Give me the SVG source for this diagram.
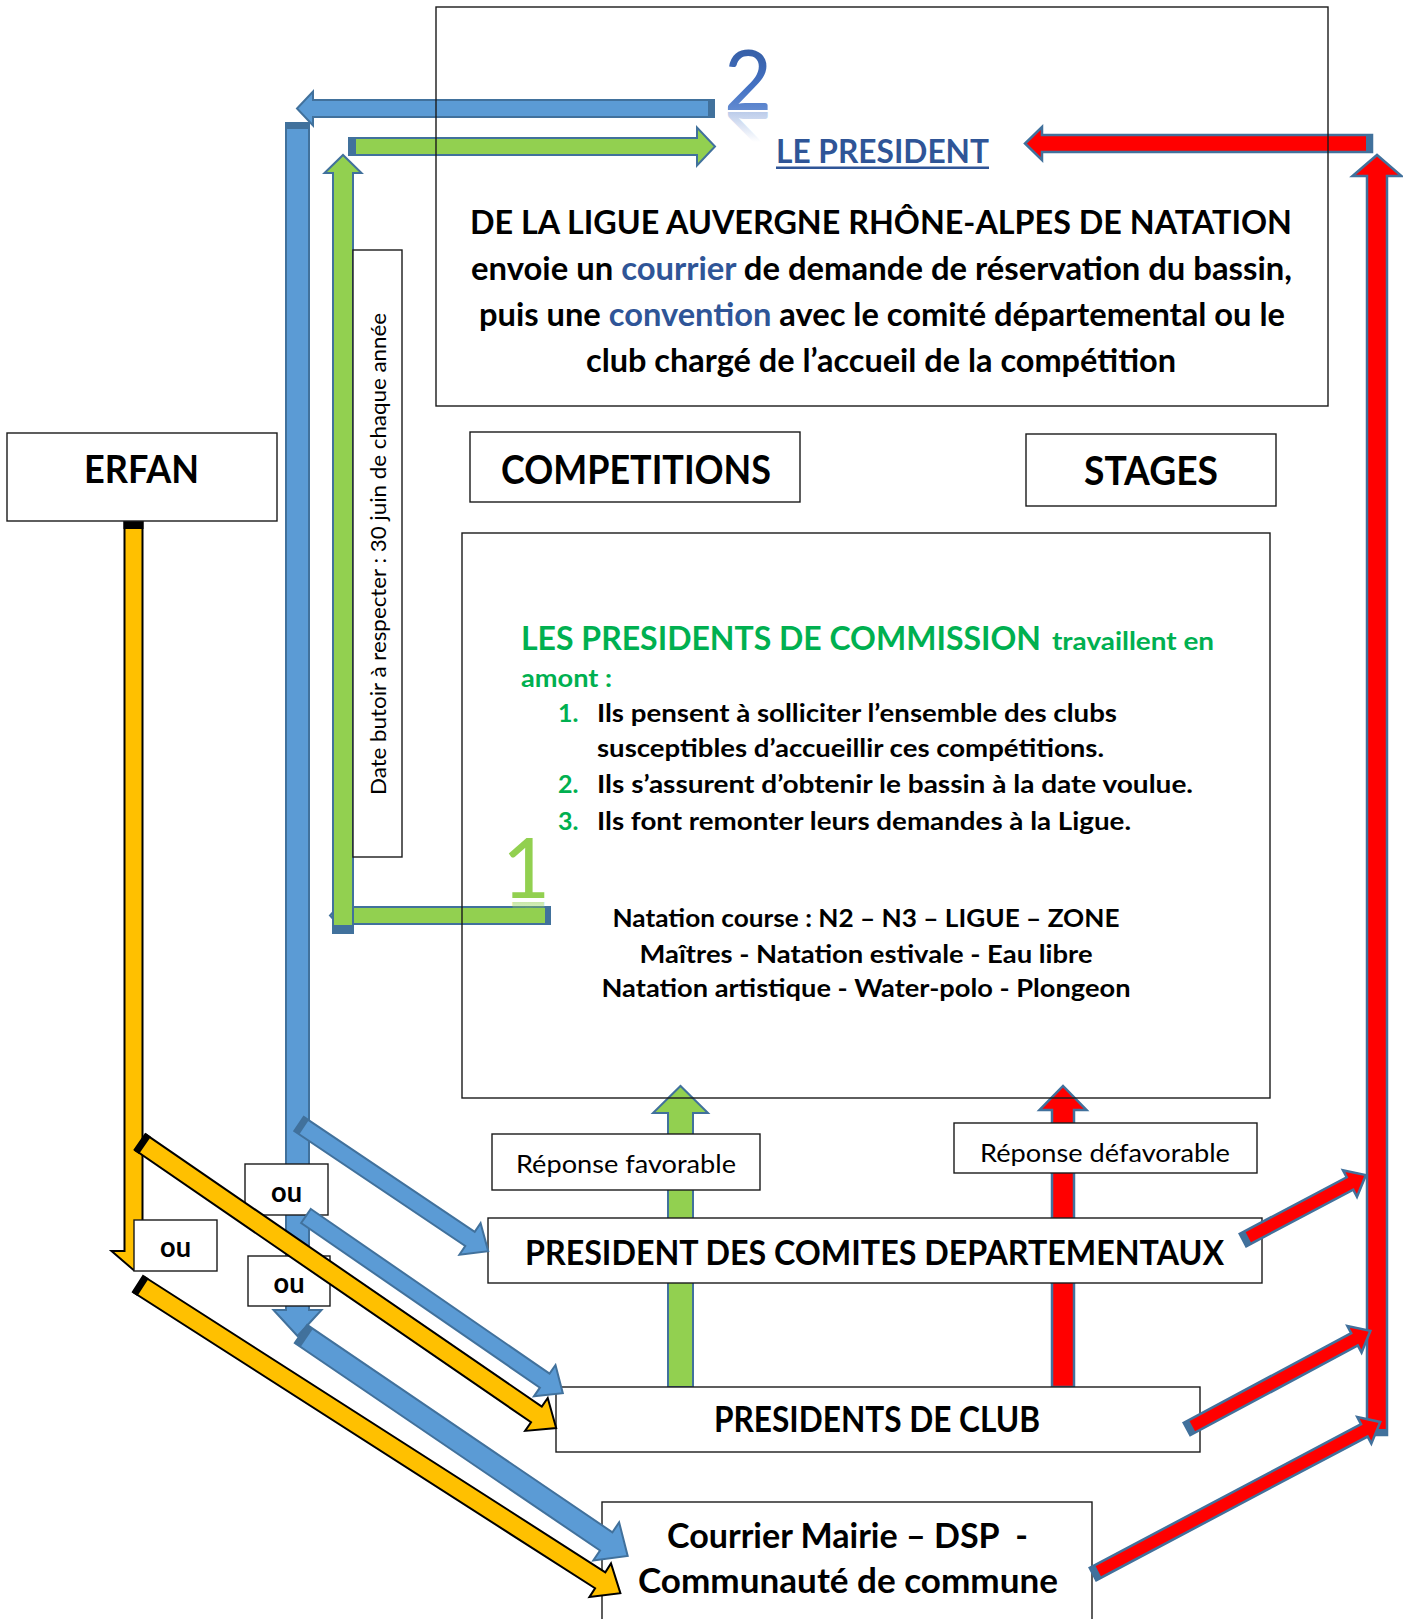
<svg xmlns="http://www.w3.org/2000/svg" width="1403" height="1619" viewBox="0 0 1403 1619">
<defs>
<style>
.bx{fill:#fff;stroke:#1a1a1a;stroke-width:1.4}
.fr{fill:none;stroke:#1a1a1a;stroke-width:1.4}
.t{font-family:Lato,'Open Sans','Liberation Sans',sans-serif;font-weight:700;fill:#000}
.r{font-weight:400}
.lt{font-weight:400}
.c{text-anchor:middle}
.dk{fill:#2F5597}
.gn{fill:#00B050}
.bl{fill:#5B9BD5;stroke:#41719C;stroke-width:2}
.gr{fill:#92D050;stroke:#41719C;stroke-width:2}
.rd{fill:#FF0000;stroke:#41719C;stroke-width:2.5}
.or{fill:#FFC000;stroke:#000;stroke-width:2}
.capb{fill:#41719C}
.capk{fill:#000}
</style>
<linearGradient id="g2" x1="0" y1="0" x2="0" y2="1">
<stop offset="0" stop-color="#2F5597"/>
<stop offset="0.6" stop-color="#4472C4"/>
<stop offset="1" stop-color="#7C9FDB"/>
</linearGradient>
<linearGradient id="g2r" gradientUnits="userSpaceOnUse" x1="0" y1="110" x2="0" y2="80">
<stop offset="0" stop-color="#8FAADC" stop-opacity="0.6"/>
<stop offset="1" stop-color="#8FAADC" stop-opacity="0"/>
</linearGradient>
<linearGradient id="g1r" gradientUnits="userSpaceOnUse" x1="0" y1="898" x2="0" y2="876">
<stop offset="0" stop-color="#92D050" stop-opacity="0.5"/>
<stop offset="1" stop-color="#92D050" stop-opacity="0"/>
</linearGradient>
</defs>
<rect x="0" y="0" width="1403" height="1619" fill="#fff"/>

<g id="connectors-back">
 <g id="arrow-blue-top" transform="translate(714,108.5) rotate(180)">
  <polygon class="bl" points="0,-8.5 401,-8.5 401,-17 417,0 401,17 401,8.5 0,8.5"/>
  <rect class="capb" x="0" y="-8.5" width="6" height="17"/>
 </g>
 <g id="arrow-green-top" transform="translate(349,146.5)">
  <polygon class="gr" points="0,-8.5 348,-8.5 348,-19 366,0 348,19 348,8.5 0,8.5"/>
  <rect class="capb" x="0" y="-8.5" width="7" height="17"/>
 </g>
 <g id="arrow-red-top" transform="translate(1372,143.5) rotate(180)">
  <polygon class="rd" points="0,-8.5 330,-8.5 330,-16.5 347,0 330,16.5 330,8.5 0,8.5"/>
  <rect class="capb" x="0" y="-8.5" width="6" height="17"/>
 </g>
 <g id="arrow-blue-vertical" transform="translate(297.5,123) rotate(90)">
  <polygon class="bl" points="0,-11.5 1187,-11.5 1187,-24 1213,0 1187,24 1187,11.5 0,11.5"/>
  <rect class="capb" x="0" y="-11.5" width="6" height="23"/>
 </g>
 <g id="arrow-green-bottom" transform="translate(550,915.5) rotate(180)">
  <polygon class="gr" points="0,-8.5 210,-8.5 210,-11 220,0 210,11 210,8.5 0,8.5"/>
  <rect class="capb" x="0" y="-8.5" width="5" height="17"/>
 </g>
 <g id="arrow-green-vertical" transform="translate(343,933) rotate(-90)">
  <polygon class="gr" points="0,-10 760,-10 760,-18.5 778,0 760,18.5 760,10 0,10"/>
  <rect class="capb" x="0" y="-10" width="8" height="20"/>
 </g>
 <g id="arrow-red-vertical" transform="translate(1377,1435) rotate(-90)">
  <polygon class="rd" points="0,-10 1259,-10 1259,-24.5 1280,0 1259,24.5 1259,10 0,10"/>
  <rect class="capb" x="0" y="-10" width="6" height="20"/>
 </g>
 <g id="arrow-favorable" transform="translate(680.5,1387) rotate(-90)">
  <polygon class="gr" points="0,-12.5 274,-12.5 274,-27.5 301,0 274,27.5 274,12.5 0,12.5"/>
 </g>
 <g id="arrow-defavorable" transform="translate(1063,1387) rotate(-90)">
  <polygon class="rd" points="0,-11 277,-11 277,-23.5 301,0 277,23.5 277,11 0,11"/>
 </g>
 <g id="arrow-orange-vertical" transform="translate(133.5,521) rotate(90)">
  <polygon class="or" points="0,-9 730,-9 730,-22 749,0 730,22 730,9 0,9"/>
  <rect class="capk" x="0" y="-10" width="8" height="20"/>
 </g>
</g>

<g id="ligue">
 <rect class="fr" x="436" y="7" width="892" height="399"/>
 <text class="t dk c" x="882.5" y="163" font-size="32" textLength="213" lengthAdjust="spacingAndGlyphs">LE PRESIDENT</text>
 <rect x="776" y="166.5" width="213" height="2.5" fill="#2F5597"/>
 <text class="t c" x="881" y="234" font-size="33" textLength="822" lengthAdjust="spacingAndGlyphs">DE LA LIGUE AUVERGNE RHÔNE-ALPES DE NATATION</text>
 <text class="t c" x="881.5" y="280" font-size="33" textLength="821" lengthAdjust="spacingAndGlyphs">envoie un <tspan class="dk">courrier</tspan> de demande de réservation du bassin,</text>
 <text class="t c" x="882" y="326" font-size="33" textLength="806" lengthAdjust="spacingAndGlyphs">puis une <tspan class="dk">convention</tspan> avec le comité départemental ou le</text>
 <text class="t c" x="881" y="372" font-size="33" textLength="590" lengthAdjust="spacingAndGlyphs">club chargé de l’accueil de la compétition</text>
</g>

<g id="label-2">
 <text class="t lt" x="724" y="110" font-size="83" style="fill:url(#g2)">2</text>
 <text class="t lt" x="724" y="110" font-size="83" transform="matrix(1 0 0 -1 0 222)" style="fill:url(#g2r)">2</text>
</g>

<g id="erfan">
 <rect class="bx" x="7" y="433" width="270" height="88"/>
 <text class="t c" x="141.5" y="483" font-size="38" textLength="115" lengthAdjust="spacingAndGlyphs">ERFAN</text>
</g>

<g id="competitions">
 <rect class="bx" x="470" y="432" width="330" height="70"/>
 <text class="t c" x="636" y="484" font-size="40" textLength="270" lengthAdjust="spacingAndGlyphs">COMPETITIONS</text>
</g>

<g id="stages">
 <rect class="bx" x="1026" y="434" width="250" height="72"/>
 <text class="t c" x="1151" y="485" font-size="40" textLength="134" lengthAdjust="spacingAndGlyphs">STAGES</text>
</g>

<g id="date-butoir">
 <rect class="bx" x="353" y="250" width="49" height="607"/>
 <text class="t r c" transform="translate(386,554) rotate(-90)" x="0" y="0" font-size="22" textLength="482" lengthAdjust="spacingAndGlyphs">Date butoir à respecter : 30 juin de chaque année</text>
</g>

<g id="commission">
 <rect class="fr" x="462" y="533" width="808" height="565"/>
 <text class="t gn" x="521" y="650" font-size="32" textLength="520" lengthAdjust="spacingAndGlyphs">LES PRESIDENTS DE COMMISSION</text>
 <text class="t gn" x="1052" y="650" font-size="25" textLength="162" lengthAdjust="spacingAndGlyphs">travaillent en</text>
 <text class="t gn" x="521" y="687" font-size="25" textLength="91" lengthAdjust="spacingAndGlyphs">amont :</text>
 <text class="t gn" x="558" y="722" font-size="25">1.</text>
 <text class="t" x="597" y="722" font-size="25" textLength="520" lengthAdjust="spacingAndGlyphs">Ils pensent à solliciter l’ensemble des clubs</text>
 <text class="t" x="597" y="757" font-size="25" textLength="507" lengthAdjust="spacingAndGlyphs">susceptibles d’accueillir ces compétitions.</text>
 <text class="t gn" x="558" y="793" font-size="25">2.</text>
 <text class="t" x="597" y="793" font-size="25" textLength="596" lengthAdjust="spacingAndGlyphs">Ils s’assurent d’obtenir le bassin à la date voulue.</text>
 <text class="t gn" x="558" y="830" font-size="25">3.</text>
 <text class="t" x="597" y="830" font-size="25" textLength="534" lengthAdjust="spacingAndGlyphs">Ils font remonter leurs demandes à la Ligue.</text>
 <text class="t c" x="866" y="927" font-size="25" textLength="507" lengthAdjust="spacingAndGlyphs">Natation course : N2 – N3 – LIGUE – ZONE</text>
 <text class="t c" x="866" y="963" font-size="25" textLength="453" lengthAdjust="spacingAndGlyphs">Maîtres - Natation estivale - Eau libre</text>
 <text class="t c" x="866" y="997" font-size="25" textLength="529" lengthAdjust="spacingAndGlyphs">Natation artistique - Water-polo - Plongeon</text>
</g>

<g id="label-1">
 <text class="t lt c" x="526" y="898" font-size="83" style="fill:#92D050">1</text>
 <text class="t lt c" x="526" y="898" font-size="83" transform="matrix(1 0 0 -1 0 1800)" style="fill:url(#g1r)">1</text>
</g>

<g id="reponse-favorable">
 <rect class="bx" x="492" y="1134" width="268" height="56"/>
 <text class="t r c" x="626" y="1173" font-size="25" textLength="220" lengthAdjust="spacingAndGlyphs">Réponse favorable</text>
</g>

<g id="reponse-defavorable">
 <rect class="bx" x="954" y="1123" width="303" height="50"/>
 <text class="t r c" x="1105" y="1162" font-size="25" textLength="250" lengthAdjust="spacingAndGlyphs">Réponse défavorable</text>
</g>

<g id="comites">
 <rect class="bx" x="488" y="1218" width="774" height="65"/>
 <text class="t c" x="874.5" y="1265" font-size="35" textLength="699" lengthAdjust="spacingAndGlyphs">PRESIDENT DES COMITES DEPARTEMENTAUX</text>
</g>

<g id="clubs">
 <rect class="bx" x="556" y="1387" width="644" height="65"/>
 <text class="t c" x="877" y="1432" font-size="36" textLength="326" lengthAdjust="spacingAndGlyphs">PRESIDENTS DE CLUB</text>
</g>

<g id="mairie">
 <rect class="bx" x="602" y="1502" width="490" height="130"/>
 <text class="t c" x="847.5" y="1548" font-size="35" textLength="361" lengthAdjust="spacingAndGlyphs" xml:space="preserve">Courrier Mairie – DSP  -</text>
 <text class="t c" x="848" y="1593" font-size="35" textLength="420" lengthAdjust="spacingAndGlyphs">Communauté de commune</text>
</g>

<g id="ou-1">
 <rect class="bx" x="245" y="1164" width="83" height="51"/>
 <text class="t c" x="286.5" y="1202" font-size="28" textLength="31" lengthAdjust="spacingAndGlyphs">ou</text>
</g>
<g id="ou-2">
 <rect class="bx" x="134" y="1220" width="83" height="51"/>
 <text class="t c" x="175.5" y="1257" font-size="28" textLength="31" lengthAdjust="spacingAndGlyphs">ou</text>
</g>
<g id="ou-3">
 <rect class="bx" x="248" y="1256" width="82" height="50"/>
 <text class="t c" x="289" y="1293" font-size="28" textLength="31" lengthAdjust="spacingAndGlyphs">ou</text>
</g>

<g id="connectors-front">
 <g id="arrow-blue-diag1" transform="translate(299,1124) rotate(33.9)">
  <polygon class="bl" points="0,-8.5 206,-8.5 206,-19 228,0 206,19 206,8.5 0,8.5"/>
  <rect class="capb" x="0" y="-8.5" width="6" height="17"/>
 </g>
 <g id="arrow-blue-diag2" transform="translate(306,1216) rotate(34.6)">
  <polygon class="bl" points="0,-8.5 290,-8.5 290,-19 312,0 290,19 290,8.5 0,8.5"/>
 </g>
 <g id="arrow-blue-diag3" transform="translate(301,1334) rotate(34.2)">
  <polygon class="bl" points="0,-11 369,-11 369,-23 395,0 369,23 369,11 0,11"/>
  <rect class="capb" x="0" y="-11" width="7" height="22"/>
 </g>
 <g id="arrow-orange-diag1" transform="translate(140,1142) rotate(34.5)">
  <polygon class="or" points="0,-9.5 481,-9.5 481,-20 505,0 481,20 481,9.5 0,9.5"/>
  <rect class="capk" x="0" y="-10.5" width="6" height="21"/>
 </g>
 <g id="arrow-orange-diag2" transform="translate(138,1284) rotate(32.66)">
  <polygon class="or" points="0,-9.5 549,-9.5 549,-20 573,0 549,20 549,9.5 0,9.5"/>
  <rect class="capk" x="0" y="-10.5" width="6" height="21"/>
 </g>
 <g id="arrow-red-diag1" transform="translate(1243,1240) rotate(-27.86)">
  <polygon class="rd" points="0,-7 121,-7 121,-15 139,0 121,15 121,7 0,7"/>
  <rect class="capb" x="0" y="-7" width="6" height="14"/>
 </g>
 <g id="arrow-red-diag2" transform="translate(1187,1429) rotate(-28.17)">
  <polygon class="rd" points="0,-7 190,-7 190,-15 208,0 190,15 190,7 0,7"/>
  <rect class="capb" x="0" y="-7" width="6" height="14"/>
 </g>
 <g id="arrow-red-diag3" transform="translate(1093,1574) rotate(-27.9)">
  <polygon class="rd" points="0,-7 307,-7 307,-15 325,0 307,15 307,7 0,7"/>
  <rect class="capb" x="0" y="-7" width="6" height="14"/>
 </g>
</g>
</svg>
